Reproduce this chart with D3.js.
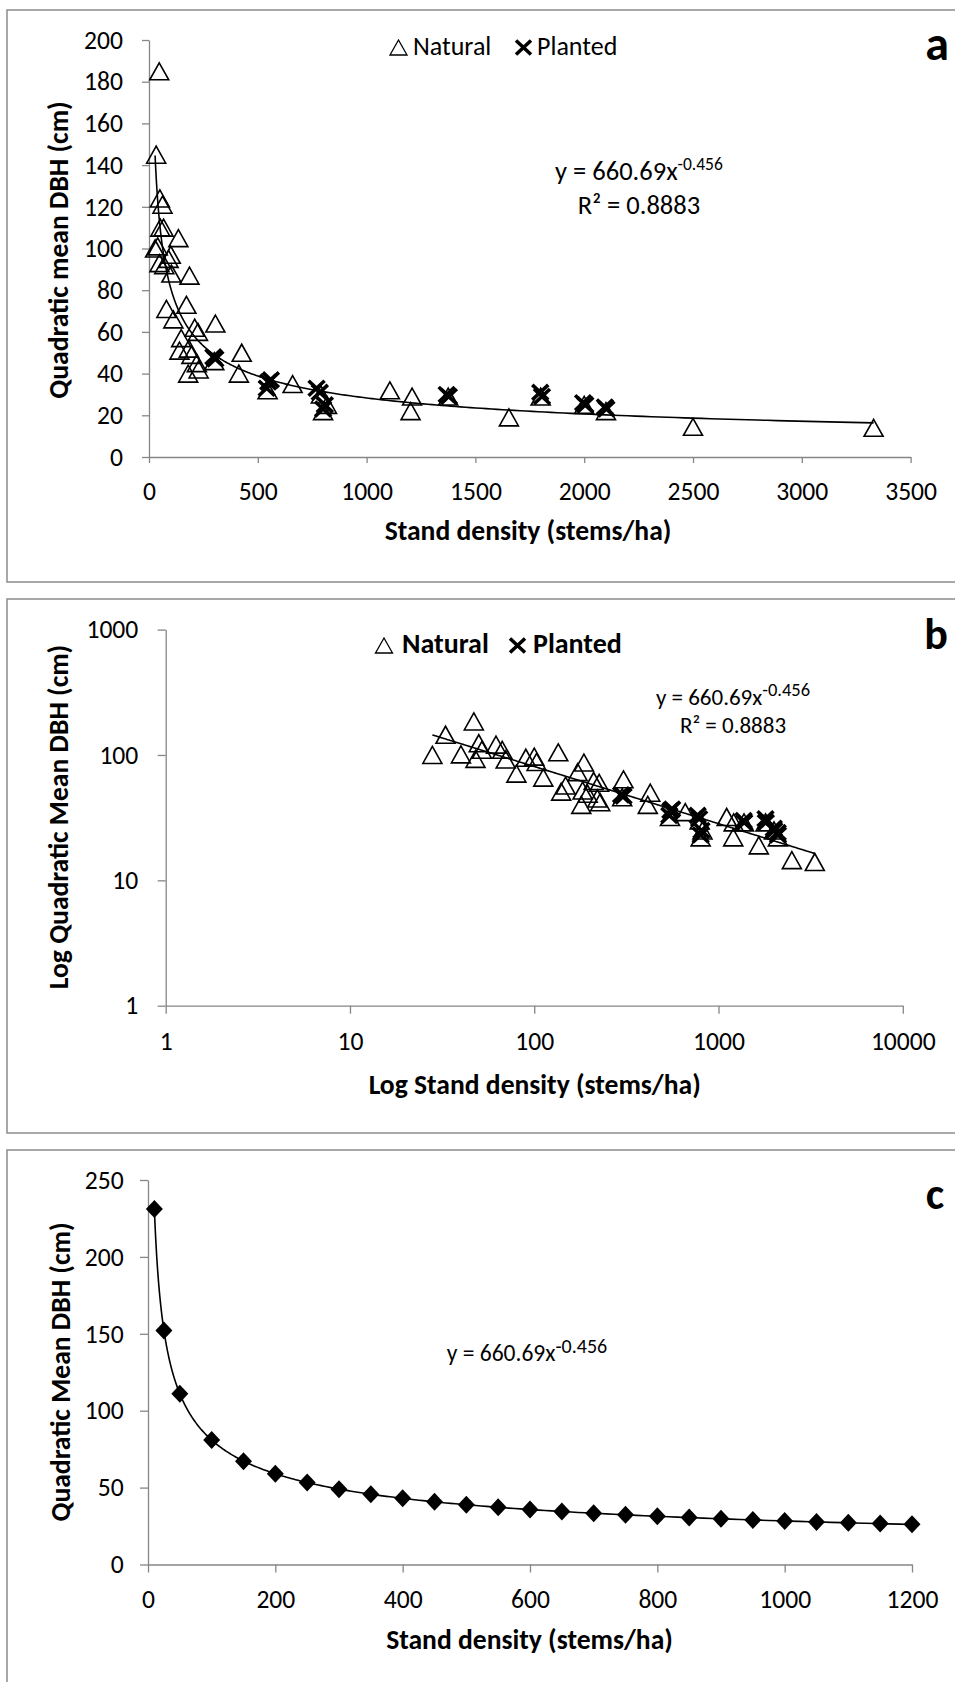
<!DOCTYPE html>
<html>
<head>
<meta charset="utf-8">
<script src="https://cdn.jsdelivr.net/npm/d3@7"></script>
<style>
  html, body { margin: 0; padding: 0; background: #fff; }
  svg { display: block; }
</style>
</head>
<body>
<svg id="fig" width="955" height="1682"></svg>
<script>
// ---- Data ----------------------------------------------------------------
// Natural stands: stand density (stems/ha) and quadratic mean DBH (cm)
const naturalDensity = [28, 33, 40, 47, 48, 50, 52, 62, 67, 70,
  80, 90, 100, 103, 112, 135, 140, 148, 172, 180,
  183, 186, 195, 210, 220, 225, 228, 300, 305, 413,
  426, 545, 660, 790, 800, 818, 1107, 1202, 1209, 1375,
  1654, 1800, 2000, 2100, 2500, 3330];
const naturalDBH = [100, 145, 101, 185, 93, 124, 110, 121, 110, 92,
  71, 95, 97, 88, 66, 105, 51, 57, 73, 40,
  52, 87, 49, 62, 45, 60, 42, 46, 64, 40,
  50, 32, 35, 30, 22, 25, 32, 22, 29, 29,
  19, 29, 25, 22, 14.5, 14];

// Planted stands
const plantedDensity = [296, 305, 541, 548, 560, 770, 785, 800, 808,
  1368, 1378, 1798, 1806, 1995, 2005, 2095, 2102];
const plantedDBH = [48, 47, 33, 36, 37, 33, 31, 23, 25,
  30, 29, 31, 29, 26, 25, 24, 23];

// Predicted quadratic mean DBH for a range of stand densities (panel c)
const predDensity = [10, 25, 50, 100, 150, 200, 250, 300, 350, 400, 450, 500,
  550, 600, 650, 700, 750, 800, 850, 900, 950, 1000, 1050, 1100, 1150, 1200];
const predDBH = [231.2, 152.2, 111.0, 80.9, 67.2, 59.0, 53.3, 49.0, 45.7, 43.0, 40.8, 38.8,
  37.2, 35.7, 34.4, 33.3, 32.3, 31.3, 30.5, 29.7, 29.0, 28.3, 27.7, 27.1, 26.6, 26.1];

// Power-law fit y = a * x^b
const fitA = 660.69;
const fitB = -0.456;
const fitR2 = 0.8883;

// Tick labels
const ticksAX = [0, 500, 1000, 1500, 2000, 2500, 3000, 3500];
const ticksAY = [0, 20, 40, 60, 80, 100, 120, 140, 160, 180, 200];
const ticksBX = [1, 10, 100, 1000, 10000];
const ticksBY = [1, 10, 100, 1000];
const ticksCX = [0, 200, 400, 600, 800, 1000, 1200];
const ticksCY = [0, 50, 100, 150, 200, 250];

// ---- Drawing -------------------------------------------------------------
const FONT = "Carlito, Calibri, Lato, sans-serif";
const AXIS_COLOR = "#868686";
const TICK_FONT = 25.6;
const TITLE_FONT = 27.6;
const svg = d3.select("#fig");

const natural = naturalDensity.map((d, i) => ({x: d, y: naturalDBH[i]}));
const planted = plantedDensity.map((d, i) => ({x: d, y: plantedDBH[i]}));
const predicted = predDensity.map((d, i) => ({x: d, y: predDBH[i]}));

function frame(y0, y1) {
  svg.append("rect")
    .attr("x", 7).attr("y", y0)
    .attr("width", 1000).attr("height", y1 - y0)
    .attr("fill", "none")
    .attr("stroke", "#8c8c8c")
    .attr("stroke-width", 1.5);
}

function styleAxis(g) {
  g.select(".domain").attr("stroke", AXIS_COLOR).attr("stroke-width", 1.3);
  g.selectAll(".tick line").attr("stroke", AXIS_COLOR).attr("stroke-width", 1.3);
  g.selectAll("text")
    .attr("font-family", FONT)
    .attr("font-size", TICK_FONT)
    .attr("fill", "#000");
}

function axes(x, y, tx, ty, opt) {
  const fmt = d3.format("d");
  const gx = svg.append("g")
    .attr("transform", `translate(0,${y.range()[0]})`)
    .call(d3.axisBottom(x).tickValues(tx).tickFormat(fmt)
      .tickSize(opt.xTick).tickSizeOuter(0));
  styleAxis(gx);
  gx.selectAll("text").attr("y", opt.xLabel).attr("dy", null);

  const gy = svg.append("g")
    .attr("transform", `translate(${x.range()[0]},0)`)
    .call(d3.axisLeft(y).tickValues(ty).tickFormat(fmt)
      .tickSize(opt.yTick).tickSizeOuter(0));
  styleAxis(gy);
  gy.selectAll("text").attr("x", -opt.yLabel).attr("dy", "0.32em");
}

function titles(xt, xCx, xBase, yt, yCy, yBase) {
  svg.append("text")
    .attr("x", xCx).attr("y", xBase)
    .attr("text-anchor", "middle")
    .attr("font-family", FONT).attr("font-weight", "bold").attr("font-size", TITLE_FONT)
    .text(xt);
  svg.append("text")
    .attr("transform", `translate(${yBase},${yCy}) rotate(-90)`)
    .attr("text-anchor", "middle")
    .attr("font-family", FONT).attr("font-weight", "bold").attr("font-size", TITLE_FONT)
    .text(yt);
}

function panelLabel(t, x, y, size) {
  svg.append("text")
    .attr("x", x).attr("y", y)
    .attr("text-anchor", "middle")
    .attr("font-family", FONT).attr("font-weight", "bold").attr("font-size", size)
    .text(t);
}

function equation(cx, base, size, supSize, withR2, lineGap) {
  const t = svg.append("text")
    .attr("x", cx).attr("y", base)
    .attr("text-anchor", "middle")
    .attr("font-family", FONT).attr("font-size", size);
  t.append("tspan").text(`y = ${fitA}x`);
  t.append("tspan").attr("dy", -size * 0.36).attr("font-size", supSize).text(`${fitB}`);
  if (withR2) {
    svg.append("text")
      .attr("x", cx).attr("y", base + lineGap)
      .attr("text-anchor", "middle")
      .attr("font-family", FONT).attr("font-size", size)
      .text(`R\u00B2 = ${fitR2}`);
  }
}

const triPath = (w, h) => `M0,${-h / 2}L${w / 2},${h / 2}L${-w / 2},${h / 2}Z`;
const crossPath = (w, h) => `M${-w / 2},${-h / 2}L${w / 2},${h / 2}M${w / 2},${-h / 2}L${-w / 2},${h / 2}`;
const diamondPath = (w, h) => `M0,${-h / 2}L${w / 2},0L0,${h / 2}L${-w / 2},0Z`;

function markers(data, x, y, kind) {
  const g = svg.append("g");
  const sel = g.selectAll("path").data(data).join("path")
    .attr("transform", d => `translate(${x(d.x)},${y(d.y)})`);
  if (kind === "tri") {
    sel.attr("d", triPath(19, 17)).attr("fill", "none")
      .attr("stroke", "#000").attr("stroke-width", 1.6).attr("stroke-linejoin", "miter");
  } else if (kind === "cross") {
    sel.attr("d", crossPath(16, 15)).attr("fill", "none")
      .attr("stroke", "#000").attr("stroke-width", 3.6);
  } else {
    sel.attr("d", diamondPath(17, 18)).attr("fill", "#000").attr("stroke", "none");
  }
}

function fitCurve(x, y, x0, x1) {
  const n = 300;
  const pts = d3.range(n + 1).map(i => {
    const xv = x0 * Math.pow(x1 / x0, i / n);
    return [x(xv), y(fitA * Math.pow(xv, fitB))];
  });
  svg.append("path")
    .attr("d", d3.line()(pts))
    .attr("fill", "none")
    .attr("stroke", "#000")
    .attr("stroke-width", 1.6);
}

function legend(tx, ty, textX1, crossX, textX2, base, bold, size) {
  svg.append("path").attr("transform", `translate(${tx},${ty})`)
    .attr("d", triPath(17, 15)).attr("fill", "none")
    .attr("stroke", "#000").attr("stroke-width", 1.3);
  svg.append("path").attr("transform", `translate(${crossX},${ty})`)
    .attr("d", crossPath(15, 14)).attr("fill", "none")
    .attr("stroke", "#000").attr("stroke-width", 3.6);
  [["Natural", textX1], ["Planted", textX2]].forEach(([t, xx]) => {
    svg.append("text").attr("x", xx).attr("y", base)
      .attr("font-family", FONT).attr("font-size", size)
      .attr("font-weight", bold ? "bold" : "normal")
      .text(t);
  });
}

const minD = d3.min(naturalDensity.concat(plantedDensity));
const maxD = d3.max(naturalDensity.concat(plantedDensity));

// ---- Panel a: linear axes ----
frame(10, 582);
const xA = d3.scaleLinear().domain([0, 3500]).range([149, 910.6]);
const yA = d3.scaleLinear().domain([0, 200]).range([457, 40]);
axes(xA, yA, ticksAX, ticksAY, {xTick: 6, xLabel: 43, yTick: 7, yLabel: 26});
markers(natural, xA, yA, "tri");
markers(planted, xA, yA, "cross");
fitCurve(xA, yA, minD, maxD);
titles("Stand density (stems/ha)", 528, 540, "Quadratic mean DBH (cm)", 250, 68);
legend(398.5, 47.5, 413, 523.5, 537, 55, false, 26);
equation(639, 180, 26.5, 17.5, true, 33.6);
panelLabel("a", 937, 60, 48);

// ---- Panel b: log-log axes ----
frame(599, 1133);
const xB = d3.scaleLog().domain([1, 10000]).range([165.7, 902.8]);
const yB = d3.scaleLog().domain([1, 1000]).range([1005.7, 629.6]);
axes(xB, yB, ticksBX, ticksBY, {xTick: 8, xLabel: 44.3, yTick: 8, yLabel: 27.4});
markers(natural, xB, yB, "tri");
markers(planted, xB, yB, "cross");
fitCurve(xB, yB, minD, maxD);
titles("Log Stand density (stems/ha)", 534.7, 1094, "Log Quadratic Mean DBH (cm)", 817, 68);
legend(384, 645.5, 402, 517.5, 533, 653, true, 28);
equation(733, 704.5, 23, 18.5, true, 28.5);
panelLabel("b", 936, 649, 44);

// ---- Panel c: predicted curve ----
frame(1150, 1700);
const xC = d3.scaleLinear().domain([0, 1200]).range([148, 912]);
const yC = d3.scaleLinear().domain([0, 250]).range([1564.5, 1180]);
axes(xC, yC, ticksCX, ticksCY, {xTick: 8, xLabel: 43.5, yTick: 8, yLabel: 24.4});
fitCurve(xC, yC, d3.min(predDensity), d3.max(predDensity));
markers(predicted, xC, yC, "diamond");
titles("Stand density (stems/ha)", 529.5, 1649, "Quadratic Mean DBH (cm)", 1372, 70);
equation(527, 1361, 23.5, 20, false, 0);
panelLabel("c", 935, 1209, 44);
</script>
</body>
</html>
